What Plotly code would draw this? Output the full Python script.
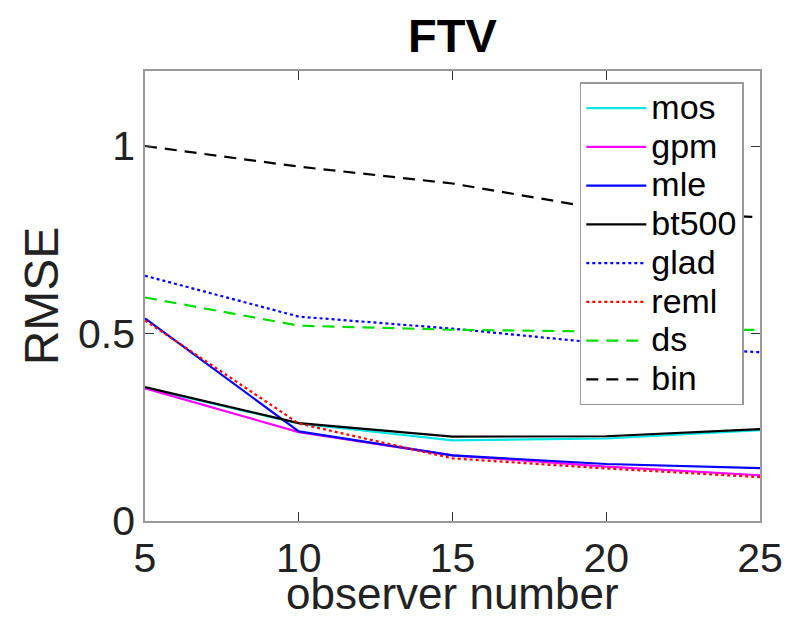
import plotly.graph_objects as go

observers = [5, 10, 15, 20, 25]
mos = [0.355, 0.260, 0.215, 0.220, 0.242]
gpm = [0.354, 0.237, 0.175, 0.145, 0.122]
mle = [0.540, 0.239, 0.175, 0.152, 0.141]
bt500 = [0.357, 0.261, 0.225, 0.226, 0.245]
glad = [0.654, 0.545, 0.513, 0.473, 0.450]
reml = [0.535, 0.260, 0.167, 0.140, 0.117]
ds = [0.596, 0.521, 0.510, 0.505, 0.510]
binv = [1.000, 0.945, 0.900, 0.830, 0.810]

series = [
    ("mos", mos, "#00e5e5", "solid"),
    ("gpm", gpm, "#ff00ff", "solid"),
    ("mle", mle, "#0000ff", "solid"),
    ("bt500", bt500, "#000000", "solid"),
    ("glad", glad, "#0000ff", "dot"),
    ("reml", reml, "#ff0000", "dot"),
    ("ds", ds, "#00dd00", "12px,8px"),
    ("bin", binv, "#000000", "12px,8px"),
]

fig = go.Figure()
for name, vals, color, dash in series:
    label = '<span style="font-size:34px">' + name + '</span>'
    fig.add_trace(go.Scatter(x=observers, y=vals, mode="lines", name=label,
                             line=dict(color=color, width=2.2, dash=dash)))

font = "Liberation Sans, Arial, Helvetica, sans-serif"
fig.update_layout(
    width=787, height=617,
    margin=dict(l=145, r=27, t=71, b=96),
    paper_bgcolor="white", plot_bgcolor="white",
    font=dict(family=font, size=41, color="#222222"),
    title=dict(text="<b>FTV</b>", x=0.5, xref="paper", xanchor="center",
               y=0.943, yref="container", yanchor="middle",
               font=dict(size=47, family=font, color="black")),
    showlegend=True,
    legend=dict(x=0.707, y=0.975, xanchor="left", yanchor="top",
                bordercolor="#999999", borderwidth=1.5, bgcolor="white",
                font=dict(size=27.5, family=font, color="black"), tracegroupgap=0,
                itemwidth=60),
    xaxis=dict(range=[5, 25], tickvals=[5, 10, 15, 20, 25],
               ticks="inside", ticklen=9, tickcolor="#333333",
               showline=True, linecolor="#999999", linewidth=1.5, mirror="ticks",
               showgrid=False, zeroline=False, automargin=False,
               ticklabeloverflow="allow",
               tickfont=dict(size=41)),
    yaxis=dict(range=[0, 1.2], tickvals=[0, 0.5, 1], ticktext=["0", "0.5", "1"],
               ticks="inside", ticklen=9, tickcolor="#333333",
               showline=True, linecolor="#999999", linewidth=1.5, mirror="ticks",
               showgrid=False, zeroline=False, automargin=False,
               title=dict(text="RMSE", font=dict(size=48), standoff=4),
               tickfont=dict(size=41)),
    annotations=[dict(text="observer number", x=0.5, xref="paper", xanchor="center",
                      y=0, yref="paper", yanchor="middle", yshift=-72,
                      showarrow=False, font=dict(size=44, color="#222222", family=font))],
)

fig.write_html("out.html", config={"displayModeBar": False},
               post_script="document.body.style.margin='0px';")
